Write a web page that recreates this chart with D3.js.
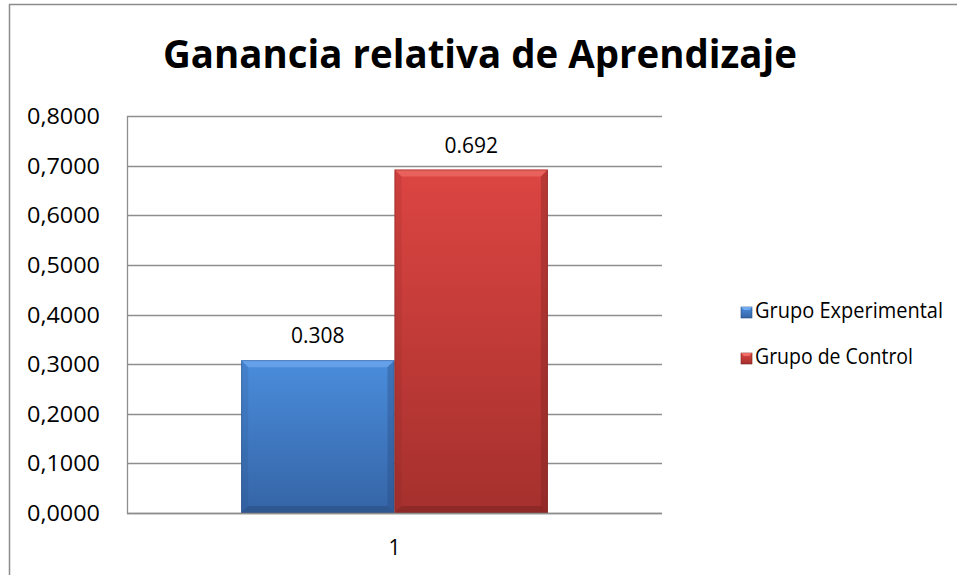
<!DOCTYPE html>
<html><head><meta charset="utf-8">
<script src="https://cdn.jsdelivr.net/npm/d3@7"></script>
<style>body{margin:0;background:#fff}svg{display:block}text{font-family:"Open Sans","Noto Sans",sans-serif}</style>
</head><body><svg id="c" width="957" height="575"></svg>
<script>
const title = "Ganancia relativa de Aprendizaje";
const categories = ["1"];
const seriesNames = ["Grupo Experimental", "Grupo de Control"];
const seriesValues = [0.308, 0.692];
const valueLabels = ["0.308", "0.692"];
const yTicks = [0, 0.1, 0.2, 0.3, 0.4, 0.5, 0.6, 0.7, 0.8];
const seriesColors = [
  {top:"#4a8ddc", bot:"#3564a6", light:"#70aaf0", dark:"#27497a"},
  {top:"#dc4542", bot:"#a5302d", light:"#ee6e68", dark:"#762220"}
];

const svg = d3.select("#c");
svg.append("rect").attr("x",9.5).attr("y",4.5).attr("width",960).attr("height",600)
  .attr("fill","#fff").attr("stroke","#8c8c8c").attr("stroke-width",1.5);

const L=127, R=662, T=116, B=513;
const y = d3.scaleLinear().domain([0,0.8]).range([B,T]);
const x0 = d3.scaleBand().domain(categories).range([L,R]).paddingInner(0).paddingOuter(0.372);
const x1 = d3.scaleBand().domain(seriesNames).range([0,x0.bandwidth()]).padding(0);

const g = svg.append("g");
g.selectAll("line.grid").data(yTicks).join("line")
  .attr("x1",L).attr("x2",R).attr("y1",d=>Math.round(y(d))+0.5).attr("y2",d=>Math.round(y(d))+0.5)
  .attr("stroke","#8e8e8e").attr("stroke-width",1.3);
g.append("line").attr("x1",L+0.5).attr("x2",L+0.5).attr("y1",T).attr("y2",B+1)
  .attr("stroke","#8e8e8e").attr("stroke-width",1.3);

const yAxis = d3.axisLeft(y).tickValues(yTicks).tickSize(0).tickPadding(0)
  .tickFormat(d=>d3.format(".4f")(d).replace(".",","));
const ya = svg.append("g").attr("transform",`translate(100,0)`).call(yAxis);
ya.select(".domain").remove();
ya.selectAll("text").attr("font-size",21).attr("fill","#000").attr("dy","0.36em")
  .attr("font-family",'"Open Sans",sans-serif').attr("textLength",73).attr("lengthAdjust","spacingAndGlyphs");

const defs = svg.append("defs");
seriesColors.forEach((c,i)=>{
  const gr = defs.append("linearGradient").attr("id","g"+i).attr("x1",0).attr("x2",0).attr("y1",0).attr("y2",1);
  gr.append("stop").attr("offset","0%").attr("stop-color",c.top);
  gr.append("stop").attr("offset","100%").attr("stop-color",c.bot);
});

const bw = x1.bandwidth();
const bev = 7;
categories.forEach(cat=>{
  seriesNames.forEach((s,i)=>{
    const v = seriesValues[i];
    const bx = x0(cat)+x1(s), by = y(v), bh = y(0)-y(v);
    const c = seriesColors[i];
    const bg = svg.append("g");
    bg.append("rect").attr("x",bx).attr("y",by).attr("width",bw).attr("height",bh).attr("fill","url(#g"+i+")");
    bg.append("polygon").attr("points",[[bx,by],[bx+bw,by],[bx+bw-bev,by+bev],[bx+bev,by+bev]].join(" "))
      .attr("fill",c.light).attr("opacity",0.7);
    bg.append("polygon").attr("points",[[bx,by],[bx+bev,by+bev],[bx+bev,by+bh-bev],[bx,by+bh]].join(" "))
      .attr("fill",c.dark).attr("opacity",0.15);
    bg.append("polygon").attr("points",[[bx+bw,by],[bx+bw,by+bh],[bx+bw-bev,by+bh-bev],[bx+bw-bev,by+bev]].join(" "))
      .attr("fill",c.dark).attr("opacity",0.35);
    bg.append("polygon").attr("points",[[bx,by+bh],[bx+bw,by+bh],[bx+bw-bev,by+bh-bev],[bx+bev,by+bh-bev]].join(" "))
      .attr("fill",c.dark).attr("opacity",0.5);
    bg.append("rect").attr("x",bx+0.5).attr("y",by+0.5).attr("width",bw-1).attr("height",bh-1)
      .attr("fill","none").attr("stroke",c.dark).attr("stroke-opacity",0.4);
    svg.append("text").attr("x",bx+bw/2).attr("y",by-17).attr("text-anchor","middle")
      .attr("font-size",21).attr("fill","#000").text(valueLabels[i]);
  });
});

svg.append("line").attr("x1",L).attr("x2",R).attr("y1",B+0.5).attr("y2",B+0.5)
  .attr("stroke","#8e8e8e").attr("stroke-width",1.3);
svg.selectAll("text.cat").data(categories).join("text").attr("class","cat")
  .attr("x",d=>x0(d)+x0.bandwidth()/2).attr("y",555).attr("text-anchor","middle")
  .attr("font-size",21).attr("fill","#000").text(d=>d);

svg.append("text").attr("x",480).attr("y",68).attr("text-anchor","middle")
  .attr("font-size",39).attr("font-weight","bold").attr("fill","#000")
  .attr("textLength",634).attr("lengthAdjust","spacingAndGlyphs").text(title);

const lg = svg.append("g");
seriesNames.forEach((s,i)=>{
  const base = 318 + i*46;
  const c = seriesColors[i];
  lg.append("rect").attr("x",741).attr("y",base-11).attr("width",11).attr("height",11).attr("fill","url(#g"+i+")")
    .attr("stroke",c.dark).attr("stroke-width",0.6);
  lg.append("polygon").attr("points",[[741,base-11],[752,base-11],[749,base-8],[744,base-8]].join(" ")).attr("fill",c.light);
  lg.append("text").attr("x",755).attr("y",base).attr("font-size",21).attr("fill","#000")
    .attr("textLength", i===0?188:158).attr("lengthAdjust","spacingAndGlyphs").text(s);
});
</script></body></html>
